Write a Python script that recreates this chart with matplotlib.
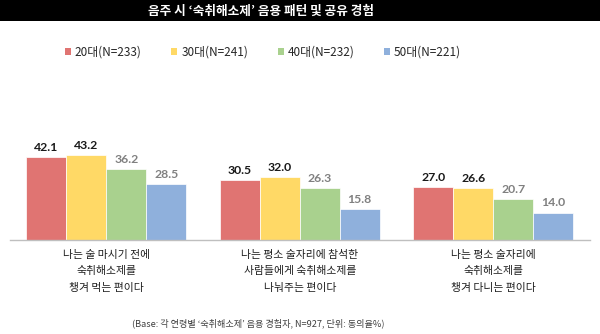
import matplotlib
matplotlib.use("Agg")
import matplotlib.pyplot as plt
from matplotlib.patches import Patch, Rectangle

plt.rcParams['font.family'] = ['Noto Sans CJK KR', 'DejaVu Sans']

title = "음주 시 ‘숙취해소제’ 음용 패턴 및 공유 경험"
categories = ["나는 술 마시기 전에\n숙취해소제를\n챙겨 먹는 편이다",
              "나는 평소 술자리에 참석한\n사람들에게 숙취해소제를\n나눠주는 편이다",
              "나는 평소 술자리에\n숙취해소제를\n챙겨 다니는 편이다"]
series_names = ["20대(N=233)", "30대(N=241)", "40대(N=232)", "50대(N=221)"]
values = [
    [42.1, 30.5, 27.0],
    [43.2, 32.0, 26.6],
    [36.2, 26.3, 20.7],
    [28.5, 15.8, 14.0],
]
colors = ["#E07472", "#FFD966", "#A9D18E", "#8FB0DC"]
label_colors = ["#1a1a1a", "#1a1a1a", "#808080", "#808080"]
footnote = "(Base: 각 연령별 ‘숙취해소제’ 음용 경험자, N=927, 단위: 동의율%)"

W, H = 600, 334
fig = plt.figure(figsize=(W/100, H/100), dpi=100)
fig.patch.set_facecolor("white")

# title band
fig.patches.append(Rectangle((0, 1 - 21/H), 1, 21/H, transform=fig.transFigure,
                             facecolor="black", edgecolor="none", zorder=0))
fig.text(261/W, 1 - 11/H, title, color="white", fontsize=9.1, fontweight="bold",
         ha="center", va="center")

ax = fig.add_axes([9.5/W, (H-240)/H, 580.5/W, 98/H])
bw = 40/193.5
n = len(series_names)
for i in range(n):
    xs = [j + (i - (n-1)/2)*bw for j in range(len(categories))]
    ax.bar(xs, values[i], width=bw, color=colors[i], edgecolor="white",
           linewidth=0.5, label=series_names[i])
    for x, v in zip(xs, values[i]):
        ax.annotate(f"{v:.1f}", (x, v), xytext=(0, 3), textcoords="offset points",
                    ha="center", va="bottom", fontsize=8.8, fontweight="bold",
                    color=label_colors[i], family=["Lato", "DejaVu Sans"])

ax.set_xlim(-0.5, len(categories) - 0.5)
ax.set_ylim(0, 50)
ax.set_yticks([])
ax.set_xticks(range(len(categories)))
ax.set_xticklabels(categories, fontsize=7.8, color="#1f1f1f", fontweight="medium",
                   linespacing=1.8)
ax.tick_params(axis="x", length=0, pad=7)
for s in ["top", "right", "left"]:
    ax.spines[s].set_visible(False)
ax.spines["bottom"].set_color("#BFBFBF")
ax.spines["bottom"].set_linewidth(1.0)

handles = [Patch(facecolor=c, edgecolor="none") for c in colors]
fig.legend(handles, series_names, loc="center", bbox_to_anchor=(263/W, 1 - 52/H),
           ncol=4, frameon=False, fontsize=8.5, handlelength=0.5, handleheight=0.5,
           handletextpad=0.35, columnspacing=2.5, labelcolor="#262626")

fig.text(258/W, 1 - 323/H, footnote, fontsize=6.6, color="#404040",
         ha="center", va="center")

fig.savefig("out.png", dpi=100)
